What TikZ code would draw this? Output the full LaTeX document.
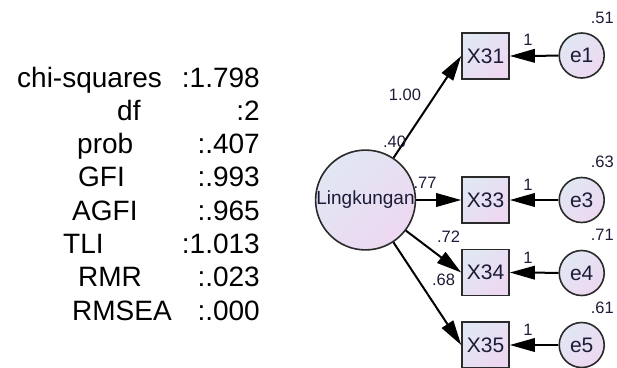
\documentclass[tikz,border=0pt]{standalone}
\usepackage{fontspec}
\setmainfont{Liberation Sans}
\usetikzlibrary{arrows.meta}

\definecolor{edge}{HTML}{2A2A2A}
\definecolor{fillA}{HTML}{E1E7F3}
\definecolor{fillB}{HTML}{EDD8F1}
\definecolor{labelink}{HTML}{1C1C38}

\tikzset{
  fitstat/.style={inner sep=0pt, font=\fontsize{28}{30}\selectfont, text=black},
  varfill/.style={draw=edge, line width=1.6pt, top color=fillA, bottom color=fillB, shading angle=45},
  latent/.style={varfill, circle, minimum size=96pt, inner sep=0pt, font=\fontsize{19}{20}\selectfont, text=labelink},
  errvar/.style={varfill, circle, minimum size=45pt, inner sep=0pt, font=\fontsize{21}{22}\selectfont, text=labelink},
  obsvar/.style={varfill, rectangle, minimum width=47pt, minimum height=46pt, inner sep=0pt, font=\fontsize{21}{22}\selectfont, text=labelink},
  estlabel/.style={inner sep=0pt, font=\fontsize{16.5}{17}\selectfont, text=labelink},
  regpath/.style={draw=black, line width=2pt, -{Triangle[length=25pt,width=13.5pt]}}
}

\begin{document}
\begin{tikzpicture}[x=1pt,y=-1pt]
  \useasboundingbox (0,0) rectangle (617,367);

  % model fit summary
  \node[fitstat, anchor=base west] (nchi)  at (17,87)    {chi-squares};
  \node[fitstat, anchor=base east] (vchi)  at (260,87)   {:1.798};
  \node[fitstat, anchor=base west] (ndf)   at (117,120.3) {df};
  \node[fitstat, anchor=base east] (vdf)   at (260,120.3) {:2};
  \node[fitstat, anchor=base west] (nprob) at (77,153.6) {prob};
  \node[fitstat, anchor=base east] (vprob) at (260,153.6) {:.407};
  \node[fitstat, anchor=base west] (ngfi)  at (78,186.9) {GFI};
  \node[fitstat, anchor=base east] (vgfi)  at (260,186.9) {:.993};
  \node[fitstat, anchor=base west] (nagfi) at (72,220.2) {AGFI};
  \node[fitstat, anchor=base east] (vagfi) at (260,220.2) {:.965};
  \node[fitstat, anchor=base west] (ntli)  at (63,253.5) {TLI};
  \node[fitstat, anchor=base east] (vtli)  at (260,253.5) {:1.013};
  \node[fitstat, anchor=base west] (nrmr)  at (78,286.8) {RMR};
  \node[fitstat, anchor=base east] (vrmr)  at (260,286.8) {:.023};
  \node[fitstat, anchor=base west] (nrmsea) at (72,320.1) {RMSEA};
  \node[fitstat, anchor=base east] (vrmsea) at (260,320.1) {:.000};

  % latent factor
  \node[latent] (L) at (365.5,200) {Lingkungan};

  % indicators
  \node[obsvar] (X31) at (485.5,56)    {X31};
  \node[obsvar] (X33) at (485.5,200)   {X33};
  \node[obsvar] (X34) at (485.5,272.5) {X34};
  \node[obsvar] (X35) at (485.5,345)   {X35};

  % error terms
  \node[errvar] (e1) at (581.7,55.5) {e1};
  \node[errvar] (e3) at (581.7,200)  {e3};
  \node[errvar] (e4) at (581.7,273)  {e4};
  \node[errvar] (e5) at (581.7,345)  {e5};

  % loadings
  \draw[regpath] (L) -- (X31.west);
  \draw[regpath] (L) -- (X33.west);
  \draw[regpath] (L) -- (X34.west);
  \draw[regpath] (L) -- (X35.west);

  % error paths
  \draw[regpath] (e1) -- (X31.east);
  \draw[regpath] (e3) -- (X33.east);
  \draw[regpath] (e4) -- (X34.east);
  \draw[regpath] (e5) -- (X35.east);

  % standardized estimates
  \node[estlabel] (w31) at (405,95)    {1.00};
  \node[estlabel] (r31) at (394.5,142) {.40};
  \node[estlabel] (w33) at (425,183)   {.77};
  \node[estlabel] (w34) at (448.5,237) {.72};
  \node[estlabel] (w35) at (443.5,280) {.68};

  % fixed error weights
  \node[estlabel] (f1) at (528,40)  {1};
  \node[estlabel] (f3) at (528,185) {1};
  \node[estlabel] (f4) at (528,258) {1};
  \node[estlabel] (f5) at (528,330) {1};

  % squared multiple correlations
  \node[estlabel, anchor=east] (s1) at (614,18)  {.51};
  \node[estlabel, anchor=east] (s3) at (614,162) {.63};
  \node[estlabel, anchor=east] (s4) at (614,235) {.71};
  \node[estlabel, anchor=east] (s5) at (614,308) {.61};
\end{tikzpicture}
\end{document}
